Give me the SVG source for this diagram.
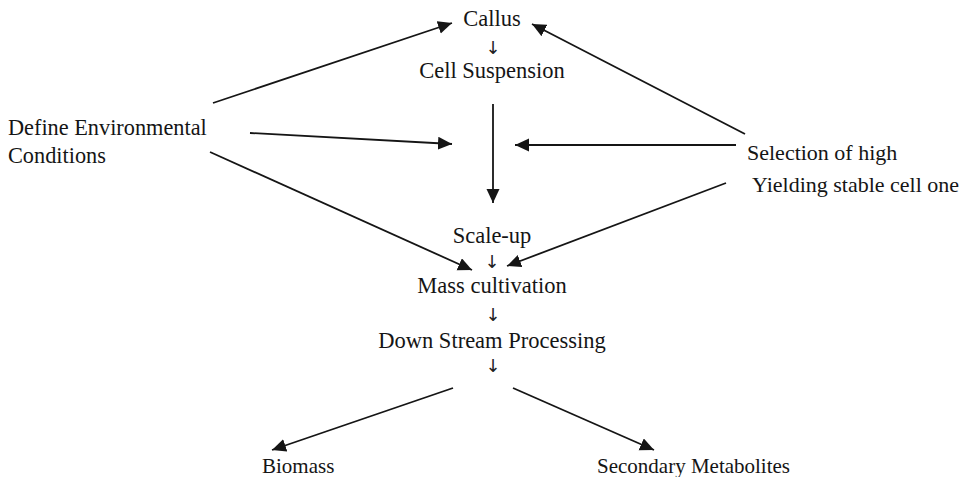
<svg xmlns="http://www.w3.org/2000/svg" width="963" height="477" viewBox="0 0 963 477">
<style>
text{font-family:"Liberation Serif","Times New Roman",serif;fill:#151515}
.c{text-anchor:middle;font-size:22.5px}
.s{font-size:18px;text-anchor:middle;font-family:"DejaVu Sans",sans-serif;fill:#222}
.l{font-size:22.3px}
.r{font-size:22px}
.b{font-size:21px}
.e{stroke:#151515;stroke-width:1.8;fill:none;marker-end:url(#ah)}
</style>
<defs>
<marker id="ah" markerUnits="userSpaceOnUse" markerWidth="16" markerHeight="14" refX="14" refY="6.5" orient="auto">
<path d="M0,0 L14,6.5 L0,13 Z" fill="#151515"/>
</marker>
</defs>
<rect width="963" height="477" fill="#fff"/>
<g id="callus"><text class="c" x="492" y="26">Callus</text><text class="s" x="493" y="54">↓</text></g>
<g id="cell-suspension"><text class="c" x="492" y="78">Cell Suspension</text></g>
<g id="define-env"><text class="l" x="8" y="135">Define Environmental</text><text class="l" x="8" y="163">Conditions</text></g>
<g id="selection"><text class="r" x="747" y="160">Selection of high</text><text class="r" x="752" y="192">Yielding stable cell one</text></g>
<g id="scale-up"><text class="c" x="492" y="243">Scale-up</text><text class="s" x="492" y="268">↓</text></g>
<g id="mass-cultivation"><text class="c" x="492" y="293">Mass cultivation</text><text class="s" x="493" y="321">↓</text></g>
<g id="downstream"><text class="c" x="492" y="348">Down Stream Processing</text><text class="s" x="493" y="372">↓</text></g>
<g id="biomass"><text class="b" x="262" y="473">Biomass</text></g>
<g id="secondary"><text class="b" x="597" y="473">Secondary Metabolites</text></g>
<g id="connectors">
<line class="e" x1="213" y1="103" x2="452" y2="23"/>
<line class="e" x1="745" y1="134" x2="532" y2="24"/>
<line class="e" x1="493" y1="104" x2="493" y2="203"/>
<line class="e" x1="250" y1="133" x2="452" y2="144"/>
<line class="e" x1="736" y1="145" x2="515" y2="145"/>
<line class="e" x1="210" y1="152" x2="472" y2="270"/>
<line class="e" x1="726" y1="183" x2="507" y2="266"/>
<line class="e" x1="453" y1="388" x2="272" y2="450"/>
<line class="e" x1="513" y1="388" x2="654" y2="450"/>
</g>
</svg>
